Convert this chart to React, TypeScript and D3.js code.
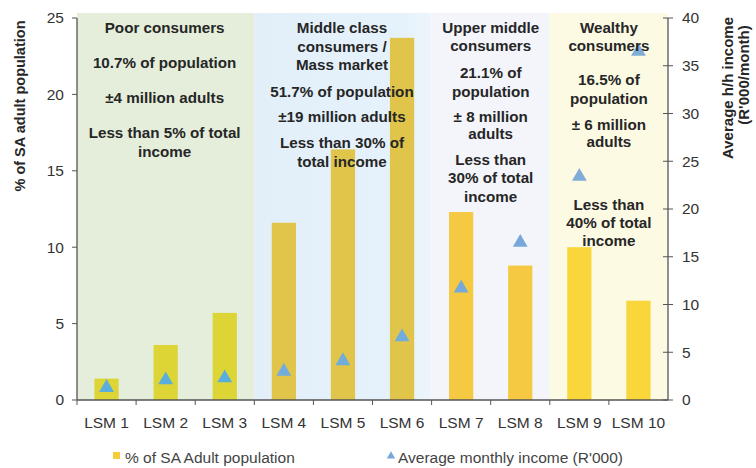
import React from "react";
import * as d3 from "d3";

const categories = ["LSM 1", "LSM 2", "LSM 3", "LSM 4", "LSM 5", "LSM 6", "LSM 7", "LSM 8", "LSM 9", "LSM 10"];
const populationPct = [1.4, 3.6, 5.7, 11.6, 16.4, 23.7, 12.3, 8.8, 10.0, 6.5];
const avgIncome = [1.4, 2.2, 2.4, 3.1, 4.2, 6.7, 11.8, 16.6, 23.5, 36.6];
const leftTicks = [0, 5, 10, 15, 20, 25];
const rightTicks = [0, 5, 10, 15, 20, 25, 30, 35, 40];
const groupStart = [0, 3, 6, 8];
const groupEnd = [3, 6, 8, 10];
const groupLines = [
  ["Poor consumers", "", "10.7% of population", "", "±4 million adults", "", "Less than 5% of total", "income"],
  ["Middle class", "consumers /", "Mass market", "51.7% of population", "±19 million adults", "Less than 30% of", "total income"],
  ["Upper middle", "consumers", "21.1% of", "population", "± 8 million", "adults", "Less than", "30% of total", "income"],
  ["Wealthy", "consumers", "16.5% of", "population", "± 6 million", "adults", "Less than", "40% of total", "income"],
];
const groupLineY = [
  [28, 0, 63, 0, 98, 0, 133, 152],
  [28, 47, 65, 92, 117, 143, 162],
  [28, 46, 73, 92, 117, 134, 160, 178, 197],
  [28, 46, 80, 99, 125, 142, 205, 223, 241],
];
const legendLabels = ["% of SA Adult population", "Average monthly income (R'000)"];

const bandFill = ["#e4eedb", "#e4f1fb", "#f3f5fb", "#fdfae4"];
const barFill = ["#dcd535", "#e0c54a", "#f6c942", "#f9d63a"];
const triFill = ["#5aaedd", "#70acdc", "#78a8da", "#80acd8"];

const left = 77, right = 668, top = 18, bottom = 400;

export default function App() {
  const x = d3.scaleBand<string>().domain(categories).range([left, right]).paddingInner(0).paddingOuter(0);
  const yL = d3.scaleLinear().domain([0, 25]).range([bottom, top]);
  const yR = d3.scaleLinear().domain([0, 40]).range([bottom, top]);
  const bw = x.bandwidth();
  const barW = bw * 0.41;
  const groupOf = (i: number) => groupStart.findIndex((s, g) => i >= s && i < groupEnd[g]);
  const tri = d3.symbol().type(d3.symbolTriangle).size(95);
  const font = "'Liberation Sans', Arial, sans-serif";

  return (
    <svg width={756} height={468} style={{ display: "block", position: "absolute", left: 0, top: 0, background: "#fff" }} fontFamily={font}>
      <defs>
        <linearGradient id="blueG" x1="0" x2="1" y1="0" y2="0">
          <stop offset="0" stopColor="#e2eff9" />
          <stop offset="0.85" stopColor="#e6f2fb" />
          <stop offset="1" stopColor="#eef5fb" />
        </linearGradient>
      </defs>
      {groupStart.map((s, g) => {
        const x0 = x(categories[s])!;
        const x1 = g === 3 ? right : x(categories[groupEnd[g]])!;
        return <rect key={g} x={x0} y={13} width={x1 - x0} height={bottom - 13} fill={g === 1 ? "url(#blueG)" : bandFill[g]} />;
      })}
      {categories.map((c, i) => (
        <rect key={c} x={x(c)! + (bw - barW) / 2} y={yL(populationPct[i])} width={barW} height={bottom - yL(populationPct[i])} fill={barFill[groupOf(i)]} />
      ))}
      {categories.map((c, i) => (
        <path key={c} d={tri()!} transform={`translate(${x(c)! + bw / 2},${yR(avgIncome[i]) + 1})`} fill={triFill[groupOf(i)]} />
      ))}
      {groupLines.map((lines, g) => {
        const x0 = x(categories[groupStart[g]])!;
        const x1 = g === 3 ? right : x(categories[groupEnd[g]])!;
        const cx = (x0 + x1) / 2 + (g === 1 ? -1 : g === 0 ? -1 : 0);
        return lines.map((t, k) =>
          t ? (
            <text key={`${g}-${k}`} x={cx} y={groupLineY[g][k]} dy="0.35em" textAnchor="middle" fontSize={15.2} fontWeight="bold" fill="#262626">
              {t}
            </text>
          ) : null
        );
      })}
      {/* left axis */}
      <line x1={left} x2={left} y1={top} y2={bottom} stroke="#555" strokeWidth={1.3} />
      {leftTicks.map((t) => (
        <g key={t}>
          <line x1={left - 5} x2={left} y1={yL(t)} y2={yL(t)} stroke="#555" />
          <text x={left - 13} y={yL(t)} dy="0.35em" textAnchor="end" fontSize={15.5} fill="#333">{t}</text>
        </g>
      ))}
      {/* right axis */}
      <line x1={right} x2={right} y1={top} y2={bottom} stroke="#555" strokeWidth={1.3} />
      {rightTicks.map((t) => (
        <g key={t}>
          <line x1={right - 5} x2={right + 5} y1={yR(t)} y2={yR(t)} stroke="#555" />
          <text x={right + 14} y={yR(t)} dy="0.35em" textAnchor="start" fontSize={15.5} fill="#333">{t}</text>
        </g>
      ))}
      {/* bottom axis */}
      <line x1={left} x2={right} y1={bottom} y2={bottom} stroke="#555" strokeWidth={1.3} />
      {categories.map((c, i) => (
        <g key={c}>
          <line x1={x(c)!} x2={x(c)!} y1={bottom} y2={bottom + 5} stroke="#555" />
          <text x={x(c)! + bw / 2} y={423} dy="0.35em" textAnchor="middle" fontSize={15.5} fill="#333">{c}</text>
        </g>
      ))}
      {/* axis titles */}
      <text transform="translate(20,106) rotate(-90)" dy="0.35em" textAnchor="middle" fontSize={14.5} fontWeight="bold" fill="#262626">% of SA adult population</text>
      <text transform="translate(728,88) rotate(-90)" dy="0.35em" textAnchor="middle" fontSize={15} fontWeight="bold" fill="#262626">Average h/h income</text>
      <text transform="translate(744,75) rotate(-90)" dy="0.35em" textAnchor="middle" fontSize={15} fontWeight="bold" fill="#262626">(R'000/month)</text>
      {/* legend */}
      <rect x={113} y={452} width={7} height={7} fill="#f5cc3a" />
      <text x={125} y={458} dy="0.35em" fontSize={15.5} fill="#444">{legendLabels[0]}</text>
      <path d={d3.symbol().type(d3.symbolTriangle).size(30)()!} transform="translate(391,456)" fill="#78a8da" />
      <text x={398} y={458} dy="0.35em" fontSize={15.5} fill="#444">{legendLabels[1]}</text>
    </svg>
  );
}
